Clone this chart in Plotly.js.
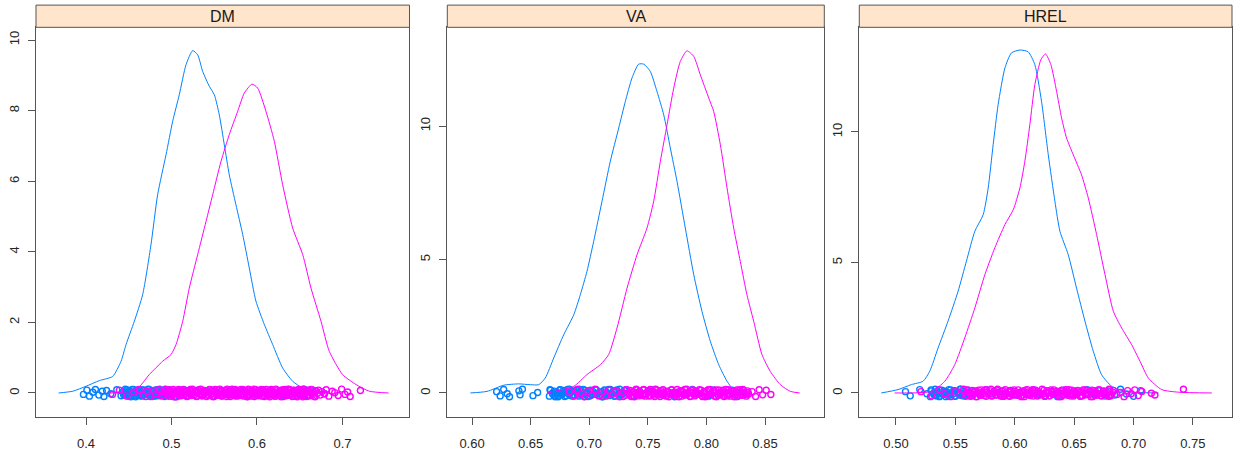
<!DOCTYPE html>
<html>
<head>
<meta charset="utf-8">
<script src="https://cdn.plot.ly/plotly-3.0.1.min.js"></script>
<style>
html,body{margin:0;padding:0;background:#ffffff;}
#chart{width:1240px;height:453px;}
</style>
</head>
<body>
<div id="chart"></div>
<script>
// ---------- panel names ----------
const panelNames = ["DM", "VA", "HREL"];

// ---------- tick labels ----------
const dmXTickVals = [0.4, 0.5, 0.6, 0.7];
const dmXTickText = ["0.4", "0.5", "0.6", "0.7"];
const vaXTickVals = [0.60, 0.65, 0.70, 0.75, 0.80, 0.85];
const vaXTickText = ["0.60", "0.65", "0.70", "0.75", "0.80", "0.85"];
const hrXTickVals = [0.50, 0.55, 0.60, 0.65, 0.70, 0.75];
const hrXTickText = ["0.50", "0.55", "0.60", "0.65", "0.70", "0.75"];
const dmYTickVals = [0, 2, 4, 6, 8, 10];
const vaYTickVals = [0, 5, 10];
const hrYTickVals = [0, 5, 10];

// ---------- density curves ----------
const dmBlueCurveX = [0.368,0.3845,0.400,0.4156,0.4312,0.441,0.4468,0.4565,0.4663,0.476,0.4838,0.4936,0.5014,0.5091,0.517,0.5248,0.5306,0.5365,0.5442,0.5501,0.5559,0.5618,0.5676,0.5754,0.5833,0.591,0.5988,0.6086,0.6184,0.630,0.6418,0.6535,0.665,0.680];
const dmBlueCurveY = [0.00,0.05,0.19,0.35,0.47,0.90,1.37,2.03,2.79,4.20,5.62,6.75,7.70,8.45,9.30,9.70,9.58,9.11,8.69,8.45,7.88,7.03,6.18,5.33,4.49,3.54,2.60,1.94,1.37,0.71,0.33,0.14,0.05,0.01];
const dmPinkCurveX = [0.428,0.4585,0.474,0.4897,0.4995,0.5053,0.5131,0.5208,0.5306,0.5404,0.5482,0.5579,0.5676,0.5774,0.5852,0.5942,0.6008,0.6105,0.6203,0.630,0.6418,0.6535,0.6632,0.6749,0.6846,0.7002,0.7158,0.7314,0.754];
const dmPinkCurveY = [0.00,0.09,0.52,0.90,1.09,1.37,2.03,2.97,3.92,4.86,5.62,6.56,7.32,7.98,8.50,8.75,8.64,7.98,7.13,5.90,4.67,3.92,2.97,2.03,1.18,0.52,0.24,0.05,0.00];

const vaBlueCurveX = [0.5986,0.6128,0.627,0.6398,0.6497,0.6569,0.6625,0.6697,0.6782,0.6868,0.6924,0.6981,0.7038,0.7109,0.718,0.7252,0.7308,0.7365,0.7422,0.7465,0.7521,0.7578,0.7636,0.7692,0.7749,0.782,0.7892,0.7962,0.8033,0.8105,0.8176,0.8233,0.8346];
const vaBlueCurveY = [0.00,0.06,0.29,0.34,0.31,0.31,0.56,1.31,2.18,2.93,3.68,4.56,5.68,7.18,8.68,9.93,10.92,11.80,12.32,12.32,12.05,11.30,10.42,9.18,7.93,6.18,4.43,3.06,1.94,1.06,0.44,0.12,0.00];
const vaPinkCurveX = [0.664,0.6868,0.6981,0.7095,0.7166,0.7237,0.7323,0.7408,0.7493,0.755,0.7607,0.7664,0.7721,0.7777,0.7834,0.7892,0.7948,0.802,0.8062,0.8119,0.8176,0.8233,0.8289,0.8346,0.8404,0.8474,0.8545,0.8631,0.8716,0.8796];
const vaPinkCurveY = [0.00,0.25,0.69,1.06,1.44,2.43,3.93,5.18,6.18,7.18,8.68,10.05,11.42,12.42,12.82,12.61,11.92,11.05,10.55,9.30,7.68,6.18,4.93,3.68,2.68,1.44,0.81,0.31,0.06,0.00];

const hrBlueCurveX = [0.4876,0.5017,0.5129,0.5228,0.5284,0.5354,0.5438,0.5523,0.5593,0.5664,0.5734,0.5776,0.5818,0.586,0.5917,0.5972,0.6043,0.6113,0.6169,0.6225,0.6282,0.6338,0.638,0.645,0.652,0.6591,0.6661,0.6731,0.6815,0.6928,0.7209];
const hrBlueCurveY = [0.00,0.13,0.32,0.45,0.83,1.72,2.75,3.90,5.05,6.20,6.83,7.85,9.51,11.05,12.45,13.03,13.14,13.07,12.58,11.18,9.13,7.34,6.20,5.30,4.02,2.75,1.60,0.70,0.26,0.06,0.00];
const hrPinkCurveX = [0.4989,0.5298,0.5411,0.5495,0.5579,0.5664,0.5748,0.5832,0.5917,0.5987,0.6043,0.6085,0.6127,0.6169,0.622,0.6259,0.6304,0.6352,0.6394,0.6436,0.6492,0.6562,0.6619,0.6689,0.676,0.683,0.69,0.6984,0.7055,0.7125,0.7237,0.7378,0.7659];
const hrPinkCurveY = [0.00,0.06,0.45,1.09,2.11,3.26,4.53,5.56,6.45,7.02,7.85,8.88,10.28,11.81,12.77,12.99,12.58,11.56,10.54,9.77,9.13,8.36,7.47,6.07,4.53,3.13,2.49,1.85,1.21,0.57,0.13,0.03,0.00];

const dmBlueRug = [0.397,0.401,0.404,0.408,0.411,0.415,0.419,0.421,0.424,0.429,0.436,0.441,
 0.443,0.444,0.446,0.447,0.448,0.450,0.451,0.452,0.454,0.455,0.456,0.458,0.459,0.460,0.462,0.463,0.464,0.466,0.467,0.468,0.470,0.471,0.472,0.474,0.475,0.476,0.478,0.479,0.480,0.482,0.483,0.484,0.486,0.487,0.488,0.490,0.491,0.492,0.494,0.495,0.496,0.498,0.499,
 0.503,0.508,0.514,0.519,0.525,0.531,0.536,0.542,0.548,0.553,0.559,0.565,0.571,0.577,0.583,0.589,0.595,0.601,0.607,0.612,0.617,0.622,0.626,0.630,0.633,0.636,0.639,0.642,0.645,0.648,0.651,0.655,0.660,0.668,0.679];
const dmBlueRug2 = [0.4435,0.4455,0.4475,0.4485,0.4505,0.4525,0.4535,0.4555,0.4575,0.4585,0.4605,0.4625,0.4635,0.4655,0.4675,0.4685,0.4705,0.4725,0.4735,0.4755,0.4775,0.4785,0.4805,0.4825,0.4835,0.4855,0.4875,0.4885,0.4905,0.4925,0.4935,0.4955,0.4975,0.4995];
const dmPinkRug = [0.431,0.439,0.448,0.456,0.462,0.467,0.471,0.475,0.479,0.482,0.485,0.488,
 0.489,0.491,0.493,0.494,0.496,0.498,0.499,0.501,
 0.502,0.503,0.505,0.506,0.507,0.509,0.510,0.511,0.513,0.514,0.515,0.517,0.518,0.519,0.521,0.522,0.523,0.525,0.526,0.527,
 0.529,0.530,0.531,0.533,0.534,0.535,0.537,0.538,0.539,0.541,0.542,0.543,0.545,0.546,0.547,0.549,0.550,0.551,0.553,0.554,
 0.555,0.557,0.558,0.559,0.561,0.562,0.563,0.565,0.566,0.567,0.569,0.570,0.571,0.573,0.574,0.575,0.577,0.578,0.579,0.581,
 0.582,0.583,0.585,0.586,0.587,0.589,0.590,0.591,0.593,0.594,0.595,0.597,0.598,0.599,0.601,0.602,0.603,0.605,0.606,0.607,
 0.609,0.610,0.611,0.613,0.614,0.615,0.617,0.618,0.619,0.621,0.622,0.623,0.625,0.626,0.627,0.629,0.630,0.631,0.633,0.634,
 0.635,0.637,0.638,0.639,0.641,0.642,0.643,0.645,0.646,0.647,0.649,0.650,0.651,0.653,0.654,0.655,0.657,0.658,0.659,0.661,
 0.662,0.663,0.665,0.666,0.668,0.669,0.671,0.672,0.674,
 0.676,0.679,0.681,0.684,0.688,0.691,0.695,0.699,0.703,0.706,0.709,0.721];
const dmPinkRug2 = [0.4925,0.4955,0.4975,0.5005,0.5035,0.5045,0.5065,0.5085,0.5095,0.5115,0.5135,0.5145,0.5165,0.5185,0.5195,0.5215,0.5235,0.5245,0.5265,0.5285,
 0.5295,0.5315,0.5335,0.5345,0.5365,0.5385,0.5395,0.5415,0.5435,0.5445,0.5465,0.5485,0.5495,0.5515,0.5535,0.5545,0.5565,0.5585,0.5595,0.5615,
 0.5635,0.5645,0.5665,0.5685,0.5695,0.5715,0.5735,0.5745,0.5765,0.5785,0.5795,0.5815,0.5835,0.5845,0.5865,0.5885,0.5895,0.5915,0.5935,0.5945,
 0.5965,0.5985,0.5995,0.6015,0.6035,0.6045,0.6065,0.6085,0.6095,0.6115,0.6135,0.6145,0.6165,0.6185,0.6195,0.6215,0.6235,0.6245,0.6265,0.6285,
 0.6295,0.6315,0.6335,0.6345,0.6365,0.6385,0.6395,0.6415,0.6435,0.6445,0.6465,0.6485,0.6495,0.6515,0.6535,0.6545,0.6565,0.6585,0.6595,0.6615,
 0.6635,0.6645,0.6665];

const vaBlueRug = [0.621,0.624,0.627,0.630,0.632,0.640,0.641,0.643,0.652,0.656,
 0.666,0.667,0.669,0.670,0.671,0.673,0.674,0.675,0.677,0.678,0.679,0.681,0.682,0.683,0.685,0.686,0.687,0.689,0.690,0.691,
 0.693,0.694,0.695,0.697,0.698,0.699,0.701,0.702,0.703,0.705,0.706,0.707,0.709,0.710,0.711,0.713,0.714,0.715,0.717,0.718,
 0.719,0.721,0.722,0.723,0.725,0.726,0.727,0.729,0.730,
 0.734,0.738,0.743,0.748,0.753,0.758,0.763,0.768,0.773,0.778,0.783,0.788,0.793,0.798,0.802,0.806,0.810,0.814,0.818,0.822,0.826,0.830];
const vaBlueRug2 = [0.6665,0.6685,0.6705,0.6715,0.6735,0.6755,0.6765,0.6785,0.6805,0.6815,0.6835,0.6855,0.6865,0.6885,0.6905,0.6915,0.6935,0.6955,0.6965,0.6985,
 0.7005,0.7015,0.7035,0.7055,0.7065,0.7085,0.7105,0.7115,0.7135,0.7155,0.7165,0.7185,0.7205,0.7215,0.7235,0.7255,0.7265,0.7285,0.7305];
const vaPinkRug = [0.683,0.687,0.690,0.693,0.696,0.699,0.702,0.705,0.708,0.711,0.714,0.717,0.720,0.723,0.726,0.729,
 0.731,0.732,0.734,0.735,0.736,0.738,0.739,0.740,0.742,0.743,0.744,0.746,0.747,0.748,0.750,0.751,0.752,0.754,0.755,0.756,
 0.758,0.759,0.760,0.762,0.763,0.764,0.766,0.767,0.768,0.770,0.771,0.772,0.774,0.775,0.776,0.778,0.779,0.780,0.782,0.783,
 0.784,0.786,0.787,0.788,0.790,0.791,0.792,0.794,0.795,0.796,0.798,0.799,0.800,0.802,0.803,0.804,0.806,0.807,0.808,0.810,
 0.811,0.812,0.814,0.815,0.816,0.818,0.819,0.820,0.822,0.823,0.824,0.826,0.827,0.828,0.830,0.831,0.832,0.834,0.835,0.836,
 0.839,0.842,0.845,0.848,0.851,0.855];
const vaPinkRug2 = [0.7315,0.7335,0.7355,0.7365,0.7385,0.7405,0.7415,0.7435,0.7455,0.7465,0.7485,0.7505,0.7515,0.7535,0.7555,0.7565,0.7585,0.7605,0.7615,0.7635,
 0.7655,0.7665,0.7685,0.7705,0.7715,0.7735,0.7755,0.7765,0.7785,0.7805,0.7815,0.7835,0.7855,0.7865,0.7885,0.7905,0.7915,0.7935,0.7955,0.7965,
 0.7985,0.8005,0.8015,0.8035,0.8055,0.8065,0.8085,0.8105,0.8115,0.8135,0.8155,0.8165,0.8185,0.8205,0.8215,0.8235,0.8255,0.8265,0.8285,0.8305,
 0.8315,0.8335,0.8355];

const hrBlueRug = [0.508,0.512,0.520,0.526,
 0.529,0.530,0.532,0.533,0.534,0.536,0.537,0.538,0.540,0.541,0.542,0.544,0.545,0.546,0.548,0.549,0.550,0.552,0.553,0.554,0.556,0.557,0.558,0.560,0.561,0.562,
 0.566,0.571,0.576,0.581,0.586,0.591,0.596,0.601,0.606,0.611,0.616,0.621,0.626,0.631,0.636,0.641,0.646,0.651,0.656,0.661,0.666,0.671,0.676,0.680,0.684,0.689,0.694,0.700,0.706];
const hrBlueRug2 = [0.5295,0.5315,0.5335,0.5345,0.5365,0.5385,0.5395,0.5415,0.5435,0.5445,0.5465,0.5485,0.5495,0.5515,0.5535,0.5545,0.5565,0.5585,0.5595,0.5615,0.5625];
const hrPinkRug = [0.521,0.530,0.536,0.541,0.546,0.550,0.554,0.557,
 0.560,0.561,0.563,0.564,0.565,0.567,0.568,0.569,0.571,0.572,0.573,0.575,0.576,0.577,0.579,0.580,0.581,0.583,0.584,0.585,
 0.587,0.588,0.589,0.591,0.592,0.593,0.595,0.596,0.597,0.599,0.600,0.601,0.603,0.604,0.605,0.607,0.608,0.609,0.611,0.612,
 0.613,0.615,0.616,0.617,0.619,0.620,0.621,0.623,0.624,0.625,0.627,0.628,0.629,0.631,0.632,0.633,0.635,0.636,0.637,0.639,
 0.640,0.641,0.643,0.644,0.645,0.647,0.648,0.649,0.651,0.652,0.653,0.655,0.656,0.657,0.659,0.660,0.661,0.663,0.664,0.665,
 0.667,0.668,0.669,0.671,0.672,0.673,0.675,0.676,0.677,0.679,0.680,0.681,0.683,
 0.686,0.689,0.692,0.695,0.698,0.701,0.704,0.707,0.715,0.718,0.742];
const hrPinkRug2 = [0.5605,0.5625,0.5645,0.5655,0.5675,0.5695,0.5705,0.5725,0.5745,0.5755,0.5775,0.5795,0.5805,0.5825,0.5845,0.5855,0.5875,0.5895,0.5905,0.5925,
 0.5945,0.5955,0.5975,0.5995,0.6005,0.6025,0.6045,0.6055,0.6075,0.6095,0.6105,0.6125,0.6145,0.6155,0.6175,0.6195,0.6205,0.6225,0.6245,0.6255,
 0.6275,0.6295,0.6305,0.6325,0.6345,0.6355,0.6375,0.6395,0.6405,0.6425,0.6445,0.6455,0.6475,0.6495,0.6505,0.6525,0.6545,0.6555,0.6575,0.6595,
 0.6605,0.6625,0.6645,0.6655,0.6675,0.6695,0.6705,0.6725,0.6745,0.6755,0.6775,0.6795,0.6805,0.6825];

// vertical jitter around 0 (density units)
const jitterDM = [-0.04,0.08,-0.09,0.02,0.10,-0.06,0.05,-0.10,0.07,-0.02,
 0.09,-0.08,0.03,-0.05,0.11,-0.01,0.06,-0.09,0.04,-0.07,
 0.10,-0.03,0.01,-0.11,0.08,-0.04,0.05,-0.08,0.02,0.09,
 -0.06,0.07,-0.10,0.03,-0.02,0.10,-0.07,0.06,-0.05,0.04,
 -0.09,0.01,0.08,-0.03,0.11,-0.08,0.05,-0.01,0.07,-0.10,
 0.02,-0.06,0.09,-0.04,0.06,-0.11,0.03,0.10,-0.07,0.00,
 0.08,-0.05,0.04,-0.09,0.01,0.07,-0.02,0.11,-0.06,0.05,
 -0.10,0.03,-0.04,0.09,-0.08,0.06,-0.01,0.02,-0.07,0.10,
 -0.03,0.08,-0.09,0.04,0.00,-0.05,0.11,-0.08,0.06,-0.02,
 0.07,-0.10,0.01,0.09,-0.06,0.03,-0.04,0.10,-0.09,0.05,
 0.04,-0.07,0.10,-0.02,0.06,-0.11,0.08,-0.04,0.01,-0.09,
 0.11,-0.05,0.03,-0.08,0.07,-0.01,0.09,-0.10,0.05,-0.03,
 -0.07,0.02,0.10,-0.06,0.04,-0.09,0.08,-0.02,0.06,-0.11,
 0.03,-0.04,0.09,-0.07,0.11,-0.03,0.00,-0.10,0.07,0.05,
 -0.08,0.10,-0.05,0.02,-0.11,0.06,-0.01,0.08,-0.06,0.04,
 -0.02,0.09,-0.09,0.05,0.01,-0.07,0.11,-0.04,0.03,-0.10,
 0.07,-0.03,0.06,-0.08,0.10,-0.05,0.02,-0.09,0.08,-0.01];
const jitterWide = [0.05,-0.11,0.13,-0.03,-0.14,0.08,-0.07,0.14,-0.10,0.02,
 -0.12,0.10,-0.05,0.07,-0.14,0.01,-0.09,0.12,-0.04,0.09,
 -0.13,0.04,-0.02,0.14,-0.11,0.06,-0.07,0.11,-0.03,-0.12,
 0.08,-0.09,0.13,-0.04,0.03,-0.13,0.10,-0.08,0.06,-0.05,
 0.12,-0.01,-0.11,0.04,-0.14,0.11,-0.06,0.02,-0.10,0.13,
 -0.03,0.08,-0.12,0.05,-0.08,0.14,-0.04,-0.13,0.09,0.00,
 -0.11,0.07,-0.05,0.12,-0.02,-0.09,0.03,-0.14,0.08,-0.06,
 0.13,-0.04,0.05,-0.12,0.11,-0.08,0.01,-0.03,0.10,-0.13,
 0.04,-0.11,0.12,-0.05,0.00,0.07,-0.14,0.11,-0.08,0.03,
 -0.09,0.13,-0.02,-0.12,0.08,-0.04,0.05,-0.13,0.12,-0.07,
 0.10,-0.06,0.02,-0.14,0.09,-0.03,0.12,-0.10,0.06,-0.01,
 -0.08,0.14,-0.12,0.03,0.07,-0.05,0.11,-0.13,0.01,0.09];

// ---------- styling ----------
const BLUE = '#0080ff', PINK = '#ff00ff';
const FRAME = '#555555';
const FONT = 'Liberation Sans, Arial, Helvetica, sans-serif';

const panels = [
  {bcx: dmBlueCurveX, bcy: dmBlueCurveY, pcx: dmPinkCurveX, pcy: dmPinkCurveY,
   br: dmBlueRug, br2: dmBlueRug2, pr: dmPinkRug, pr2: dmPinkRug2, jit: jitterDM, jitStart2: 50,
   xdom: [0.02903, 0.33024], xr: [0.3415, 0.7784], yr: [-0.68, 10.36], xtv: dmXTickVals, xtt: dmXTickText, ytv: dmYTickVals},
  {bcx: vaBlueCurveX, bcy: vaBlueCurveY, pcx: vaPinkCurveX, pcy: vaPinkCurveY,
   br: vaBlueRug, br2: vaBlueRug2, pr: vaPinkRug, pr2: vaPinkRug2, jit: jitterWide, jitStart2: 40,
   xdom: [0.36073, 0.66476], xr: [0.5789, 0.9006], yr: [-0.90, 13.70], xtv: vaXTickVals, xtt: vaXTickText, ytv: vaYTickVals},
  {bcx: hrBlueCurveX, bcy: hrBlueCurveY, pcx: hrPinkCurveX, pcy: hrPinkCurveY,
   br: hrBlueRug, br2: hrBlueRug2, pr: hrPinkRug, pr2: hrPinkRug2, jit: jitterWide, jitStart2: 40,
   xdom: [0.69298, 0.99355], xr: [0.4691, 0.7829], yr: [-0.92, 14.01], xtv: hrXTickVals, xtt: hrXTickText, ytv: hrYTickVals}
];

const YDOM = [0.0795, 0.9397];
const STRIP = [0.9397, 0.9887];

const traces = [];
const layout = {
  width: 1240, height: 453,
  margin: {l: 0, r: 0, t: 0, b: 0},
  paper_bgcolor: '#ffffff', plot_bgcolor: '#ffffff',
  showlegend: false,
  shapes: [], annotations: []
};

panels.forEach((p, i) => {
  const sx = i === 0 ? '' : String(i + 1);
  const xa = 'x' + sx, ya = 'y' + sx;
  const lineStyle = (c) => ({color: c, width: 1, shape: 'spline', smoothing: 0.6});
  const mk = (c) => ({symbol: 'circle-open', size: 6, color: c, line: {width: 1.4, color: c}});
  const rug = (xs, start, c) => ({x: xs, y: p.jit.slice(start, start + xs.length), xaxis: xa, yaxis: ya,
                                   mode: 'markers', marker: mk(c), hoverinfo: 'skip'});
  traces.push({x: p.bcx, y: p.bcy, xaxis: xa, yaxis: ya, mode: 'lines', line: lineStyle(BLUE), hoverinfo: 'skip'});
  traces.push(rug(p.br, 0, BLUE));
  traces.push(rug(p.br2, p.jitStart2, BLUE));
  traces.push({x: p.pcx, y: p.pcy, xaxis: xa, yaxis: ya, mode: 'lines', line: lineStyle(PINK), hoverinfo: 'skip'});
  traces.push(rug(p.pr, 0, PINK));
  traces.push(rug(p.pr2, p.jitStart2, PINK));

  const common = {
    showline: true, mirror: true, linecolor: FRAME, linewidth: 1,
    ticks: 'outside', ticklen: 7, tickwidth: 1, tickcolor: FRAME,
    showgrid: false, zeroline: false, fixedrange: true,
    tickfont: {family: FONT, size: 13, color: '#262626'}
  };
  layout['xaxis' + sx] = Object.assign({}, common, {
    domain: p.xdom, range: p.xr, anchor: ya,
    tickmode: 'array', tickvals: p.xtv, ticktext: p.xtt,
    ticklabelstandoff: 7
  });
  layout['yaxis' + sx] = Object.assign({}, common, {
    domain: YDOM, range: p.yr, anchor: xa,
    tickmode: 'array', tickvals: p.ytv, ticktext: p.ytv.map(String),
    tickangle: -90, ticklabelstandoff: 4
  });
  layout.shapes.push({
    type: 'rect', xref: 'paper', yref: 'paper',
    x0: p.xdom[0], x1: p.xdom[1], y0: STRIP[0], y1: STRIP[1],
    fillcolor: '#ffe5cc', line: {color: FRAME, width: 1}
  });
  layout.annotations.push({
    xref: 'paper', yref: 'paper', x: (p.xdom[0] + p.xdom[1]) / 2, y: (STRIP[0] + STRIP[1]) / 2,
    xanchor: 'center', yanchor: 'middle', showarrow: false,
    text: panelNames[i], font: {family: FONT, size: 16, color: '#1a1a1a'}
  });
});

Plotly.newPlot('chart', traces, layout, {staticPlot: true, displayModeBar: false});
</script>
</body>
</html>
